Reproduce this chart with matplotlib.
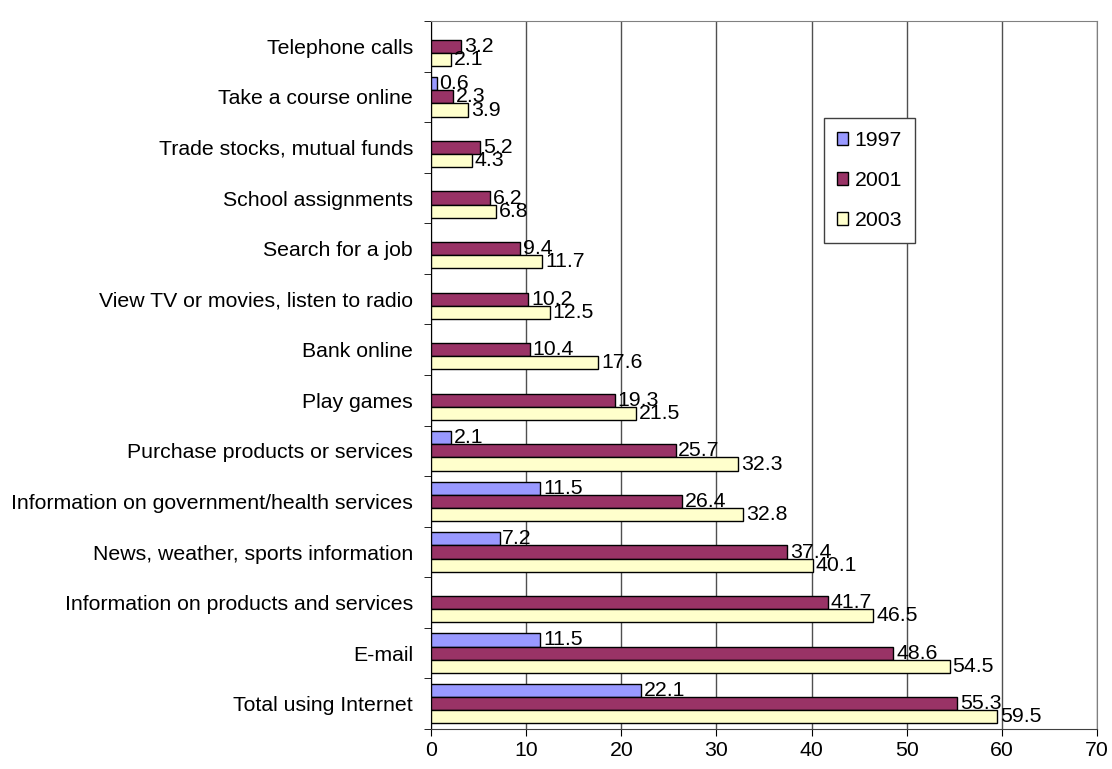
import numpy as np
import matplotlib
matplotlib.use("Agg")
import matplotlib.pyplot as plt

plt.rcParams['font.family'] = ['Liberation Sans', 'DejaVu Sans']

# categories listed bottom -> top
categories = ["Total using Internet", "E-mail", "Information on products and services",
              "News, weather, sports information", "Information on government/health services",
              "Purchase products or services", "Play games", "Bank online",
              "View TV or movies, listen to radio", "Search for a job", "School assignments",
              "Trade stocks, mutual funds", "Take a course online", "Telephone calls"]
v1997 = [22.1, 11.5, np.nan, 7.2, 11.5, 2.1, np.nan, np.nan, np.nan, np.nan, np.nan, np.nan, 0.6, np.nan]
v2001 = [55.3, 48.6, 41.7, 37.4, 26.4, 25.7, 19.3, 10.4, 10.2, 9.4, 6.2, 5.2, 2.3, 3.2]
v2003 = [59.5, 54.5, 46.5, 40.1, 32.8, 32.3, 21.5, 17.6, 12.5, 11.7, 6.8, 4.3, 3.9, 2.1]
years = ["1997", "2001", "2003"]
colors = ["#9999FF", "#993366", "#FFFFCC"]

fig = plt.figure(figsize=(11.12, 7.69), dpi=100)
ax = fig.add_axes([431/1112, 1-729/769, (1097-431)/1112, (729-21)/769])

y = np.arange(len(categories))
h = 0.26
fs = 15.3
for k, (vals, off) in enumerate(zip([v1997, v2001, v2003], [h, 0, -h])):
    vals = np.array(vals, dtype=float)
    ax.barh(y + off, vals, height=h, color=colors[k], edgecolor="black",
            linewidth=1, label=years[k], zorder=3)
    for yy, v in zip(y + off, vals):
        if not np.isnan(v):
            ax.text(v + 0.3, yy, f"{v:.1f}", va="center", ha="left",
                    fontsize=fs, zorder=4)

ax.set_xlim(0, 70)
ax.set_ylim(-0.5, len(categories) - 0.5)
ax.set_xticks(np.arange(0, 71, 10))
ax.set_yticks(y)
ax.set_yticklabels(categories, fontsize=fs)
ax.set_yticks(np.arange(-0.5, len(categories), 1), minor=True)
ax.tick_params(axis="y", which="major", length=0, pad=13)
ax.tick_params(axis="y", which="minor", length=5, direction="out", color="black")
ax.tick_params(axis="x", labelsize=fs, length=5, direction="out", pad=4)
ax.xaxis.grid(True, color="#505050", linewidth=1, zorder=0)
for s in ["top", "right"]:
    ax.spines[s].set_color("#808080")
ax.spines["left"].set_color("black")
ax.spines["bottom"].set_color("#404040")

leg = ax.legend(loc="upper left", bbox_to_anchor=(824/1112, 1-118/769),
                bbox_transform=fig.transFigure, borderaxespad=0, fontsize=fs,
                handlelength=0.55, handleheight=0.55, handletextpad=0.3,
                labelspacing=1.0, fancybox=False, framealpha=1, borderpad=0.6)
leg.get_frame().set_edgecolor("#404040")
leg.get_frame().set_linewidth(1)

fig.savefig("out.png", dpi=100)
